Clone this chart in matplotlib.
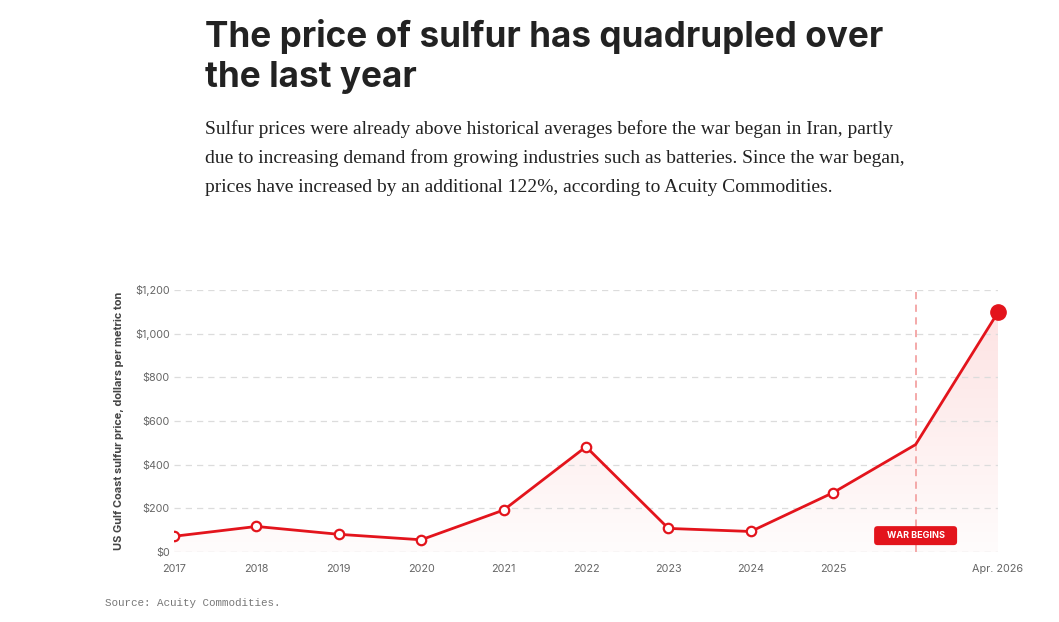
import matplotlib
matplotlib.use("Agg")
import matplotlib.pyplot as plt
import numpy as np
from matplotlib.patches import Polygon, FancyBboxPatch
from matplotlib.transforms import IdentityTransform

# ---- data ----
x_labels = ["2017", "2018", "2019", "2020", "2021", "2022", "2023", "2024", "2025", "", "Apr. 2026"]
prices = [72, 117, 81, 56, 192, 482, 108, 94, 272, 492, 1098]
hollow_markers = [True, True, True, True, True, True, True, True, True, False, False]
y_ticks = [0, 200, 400, 600, 800, 1000, 1200]
y_tick_labels = ["$0", "$200", "$400", "$600", "$800", "$1,000", "$1,200"]
war_index = 9
war_label = "WAR BEGINS"
title = "The price of sulfur has quadrupled over\nthe last year"
subtitle_lines = [
    "Sulfur prices were already above historical averages before the war began in Iran, partly",
    "due to increasing demand from growing industries such as batteries. Since the war began,",
    "prices have increased by an additional 122%, according to Acuity Commodities.",
]
y_label = "US Gulf Coast sulfur price, dollars per metric ton"
source = "Source: Acuity Commodities."

RED = "#e3141c"
W, H = 1059, 622
fig = plt.figure(figsize=(W / 100, H / 100), dpi=100)

def fx(px):
    return px / W

def fy(py):
    return 1 - py / H

# title
fig.text(fx(205), fy(47), title.split("\n")[0], ha="left", va="baseline", fontsize=25.3,
         fontweight="bold", family="Inter", color="#222222")
fig.text(fx(205), fy(87), title.split("\n")[1], ha="left", va="baseline", fontsize=25.3,
         fontweight="bold", family="Inter", color="#222222")
# subtitle
for i, line in enumerate(subtitle_lines):
    fig.text(fx(205), fy(134 + 29 * i), line, ha="left", va="baseline", fontsize=14.0,
             family="Liberation Serif", color="#222222")

ax = fig.add_axes([fx(174), fy(552), fx(998) - fx(174), fy(290) - fy(552)])
xs = np.arange(len(prices))
ax.set_xlim(0, len(prices) - 1)
ax.set_ylim(0, 1200)

# gradient fill under the line
verts = [(0, 0)] + list(zip(xs, prices)) + [(xs[-1], 0)]
poly = Polygon(verts, closed=True, facecolor="none", edgecolor="none")
ax.add_patch(poly)
grad = np.linspace(0, 1, 256).reshape(-1, 1)
cmap = matplotlib.colors.LinearSegmentedColormap.from_list("g", ["#fffcfc", "#fde3e3"])
im = ax.imshow(grad, extent=[0, xs[-1], 0, max(prices)], origin="lower", aspect="auto",
               cmap=cmap, zorder=1)
im.set_clip_path(poly)

# grid
for yv in y_ticks:
    ax.axhline(yv, color="#dcdcdc" if yv else "#cfcfcf", lw=0.9, ls=(0, (5, 4)), zorder=1.2)

# war line
ax.axvline(war_index, color="#f3a3a3", lw=1.3, ls=(0, (4, 3)), zorder=1.5)

# line
ax.plot(xs, prices, color=RED, lw=2, zorder=3, solid_joinstyle="miter")
hx = [x for x, h in zip(xs, hollow_markers) if h]
hy = [p for p, h in zip(prices, hollow_markers) if h]
ax.plot(hx, hy, ls="none", marker="o", ms=6.8, mfc="white", mec=RED, mew=1.6, zorder=4)
ax.plot([xs[-1]], [prices[-1]], ls="none", marker="o", ms=11, mfc=RED, mec=RED, zorder=5,
        clip_on=False)

# war label box (drawn in pixel units around the war position)
cx, cy = ax.transData.transform((war_index, 75))
bw, bh = 83, 19
box = FancyBboxPatch((cx - bw / 2, cy - bh / 2), bw, bh,
                     boxstyle="round,pad=0,rounding_size=3.5", fc=RED, ec="none",
                     transform=IdentityTransform(), zorder=6)
fig.patches.append(box)
fig.text(cx / W, cy / H, war_label, ha="center", va="center", fontsize=6.5, fontweight="bold",
         family="Inter", color="white", zorder=7)

ax.set_xticks(xs)
ax.set_xticklabels(x_labels)
ax.set_yticks(y_ticks)
ax.set_yticklabels(y_tick_labels)
ax.tick_params(length=0, labelsize=7.8, labelcolor="#666666", pad=4)
for lab in ax.get_xticklabels() + ax.get_yticklabels():
    lab.set_family("Inter")
ax.tick_params(axis="x", pad=9)
ax.tick_params(axis="y", pad=3)
for s in ax.spines.values():
    s.set_visible(False)
ax.set_facecolor("none")

fig.text(fx(119), fy(421), y_label, rotation=90, ha="center", va="center", fontsize=7.9,
         fontweight="bold", family="Inter", color="#444444")

fig.text(fx(105), fy(603), source, ha="left", va="center", fontsize=7.8,
         family="Liberation Mono", color="#777777")

fig.savefig("out.png", dpi=100)
